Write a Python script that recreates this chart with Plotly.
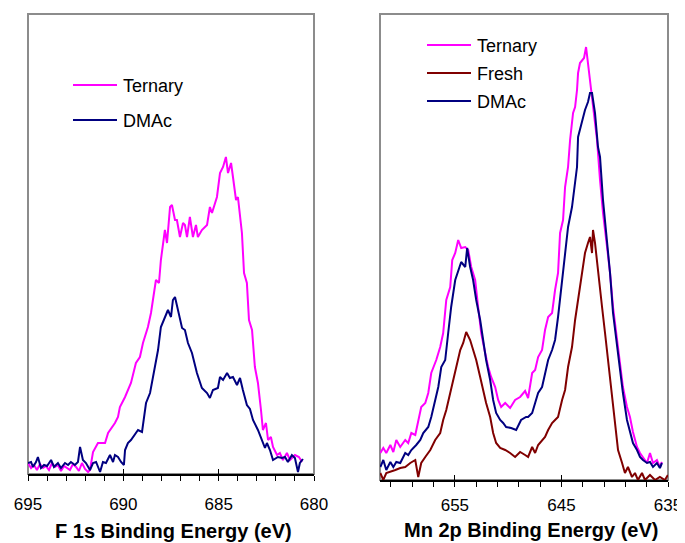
import plotly.graph_objects as go

# ---------------- F 1s panel (left) ----------------
f1s_ternary_energy = [695.00, 694.84, 694.69, 694.53, 694.37, 694.21, 694.06, 693.90, 693.74, 693.58,
                      693.43, 693.27, 693.11, 692.95, 692.80, 692.64, 692.48, 692.33, 692.17, 692.01,
                      691.85, 691.75, 691.59, 691.33, 690.96, 690.80, 690.44, 690.28, 690.18, 689.91,
                      689.76, 689.60, 689.34, 689.13, 688.97, 688.71, 688.55, 688.39, 688.29, 688.13,
                      688.03, 687.82, 687.71, 687.55, 687.45, 687.29, 687.19, 687.03, 686.87, 686.77,
                      686.66, 686.51, 686.35, 686.19, 686.09, 685.88, 685.61, 685.46, 685.35, 685.09,
                      684.93, 684.77, 684.62, 684.51, 684.35, 684.25, 684.09, 683.99, 683.78, 683.67,
                      683.52, 683.41, 683.25, 683.10, 682.94, 682.78, 682.68, 682.52, 682.41, 682.26,
                      682.15, 681.94, 681.79, 681.63, 681.42, 681.26, 681.00, 680.79, 680.63]
f1s_ternary_counts = [11, 6, 9, 4, 10, 6, 8, 4, 11, 7,
                      9, 3, 8, 6, 4, 10, 7, 3, 11, 5,
                      2, 4, 22, 31, 31, 41, 51, 57, 67, 77,
                      84, 91, 111, 117, 131, 147, 161, 184, 194, 191,
                      214, 244, 231, 267, 269, 254, 254, 237, 251, 249,
                      237, 257, 237, 249, 237, 244, 249, 267, 261, 277,
                      301, 307, 317, 301, 311, 297, 274, 277, 241, 201,
                      191, 154, 144, 107, 91, 64, 44, 51, 34, 37,
                      27, 19, 21, 14, 21, 14, 19, 17, 12]

f1s_dmac_energy = [695.00, 694.84, 694.74, 694.58, 694.48, 694.32, 694.16, 694.00, 693.79, 693.64,
                   693.43, 693.27, 693.06, 692.90, 692.75, 692.54, 692.38, 692.27, 692.12, 691.96,
                   691.75, 691.59, 691.43, 691.22, 691.07, 690.91, 690.70, 690.54, 690.44, 690.28,
                   690.12, 689.97, 689.91, 689.76, 689.60, 689.39, 689.23, 689.02, 688.92, 688.81,
                   688.60, 688.50, 688.34, 688.18, 688.03, 687.82, 687.66, 687.50, 687.40, 687.29,
                   687.13, 686.92, 686.77, 686.61, 686.40, 686.14, 685.88, 685.61, 685.46, 685.30,
                   685.04, 684.93, 684.77, 684.56, 684.41, 684.25, 684.04, 683.88, 683.73, 683.52,
                   683.36, 683.20, 682.94, 682.73, 682.57, 682.47, 682.31, 682.15, 681.89, 681.68,
                   681.52, 681.37, 681.16, 681.00, 680.84, 680.74, 680.58]
f1s_dmac_counts = [11, 12, 7, 12, 17, 6, 9, 8, 14, 7,
                   11, 6, 11, 9, 12, 9, 12, 27, 14, 11,
                   4, 11, 12, 2, 12, 11, 19, 12, 19, 17,
                   12, 9, 24, 31, 34, 39, 44, 42, 57, 71,
                   81, 91, 111, 124, 147, 157, 164, 157, 174, 177,
                   164, 146, 144, 131, 121, 101, 86, 81, 76, 84,
                   86, 97, 94, 101, 96, 97, 89, 96, 84, 69,
                   65, 54, 44, 34, 26, 31, 24, 14, 17, 16,
                   17, 12, 19, 16, 2, 11, 15]

# ---------------- Mn 2p panel (right) ----------------
mn_ternary_energy = [662.00, 661.72, 661.44, 661.06, 660.78, 660.50, 660.13, 659.66, 659.38, 659.09,
                     658.72, 658.44, 658.16, 657.78, 657.50, 657.22, 656.75, 656.38, 656.10, 655.81,
                     655.44, 655.25, 654.97, 654.69, 654.41, 654.03, 653.75, 653.47, 653.10, 652.82,
                     652.53, 652.16, 651.88, 651.60, 651.22, 650.94, 650.66, 650.28, 649.82, 649.35,
                     648.88, 648.41, 648.13, 647.75, 647.47, 647.19, 646.82, 646.54, 646.25, 645.88,
                     645.60, 645.32, 645.13, 644.85, 644.66, 644.38, 644.19, 643.91, 643.72, 643.54,
                     643.44, 643.26, 643.07, 642.88, 642.69, 642.51, 642.32, 642.04, 641.66, 641.38,
                     641.10, 640.72, 640.44, 640.16, 639.78, 639.51, 639.23, 638.85, 638.57, 638.29,
                     637.91, 637.63, 637.35, 636.97, 636.69, 636.41, 636.04, 635.76, 635.57]
mn_ternary_counts = [27, 32, 27, 35, 28, 40, 33, 40, 37, 47,
                     45, 60, 73, 77, 87, 107, 120, 133, 147, 180,
                     193, 220, 227, 240, 232, 233, 230, 213, 200, 173,
                     147, 127, 113, 103, 93, 80, 73, 77, 72, 80,
                     83, 89, 82, 107, 110, 123, 130, 150, 163, 167,
                     190, 207, 247, 260, 293, 313, 340, 367, 373, 390,
                     407, 417, 420, 422, 433, 417, 403, 373, 340, 300,
                     267, 233, 207, 173, 140, 113, 93, 73, 63, 48,
                     33, 27, 23, 17, 27, 17, 20, 13, 18]

mn_fresh_energy = [662.00, 661.72, 661.44, 661.06, 660.59, 660.13, 659.66, 659.19, 658.72, 658.44,
                   658.16, 657.78, 657.31, 656.85, 656.38, 656.10, 655.81, 655.44, 655.16, 654.88,
                   654.50, 654.22, 653.94, 653.57, 653.29, 653.00, 652.63, 652.35, 652.07, 651.69,
                   651.41, 651.13, 650.75, 650.28, 649.82, 649.35, 648.88, 648.41, 648.13, 647.75,
                   647.47, 647.19, 646.82, 646.54, 646.25, 645.88, 645.60, 645.32, 644.94, 644.66,
                   644.38, 644.01, 643.72, 643.44, 643.07, 642.79, 642.51, 642.32, 642.13, 642.04,
                   641.85, 641.57, 641.19, 640.91, 640.63, 640.26, 639.97, 639.69, 639.31, 639.04,
                   638.76, 638.38, 638.10, 637.82, 637.44, 637.16, 636.69, 636.22, 635.76, 635.29,
                   635.01]
mn_fresh_counts = [7, 0, 7, 8, 10, 12, 13, 17, 20, 3,
                   17, 23, 30, 40, 47, 60, 70, 87, 100, 110,
                   130, 137, 148, 140, 130, 120, 103, 90, 77, 63,
                   47, 37, 32, 30, 27, 23, 28, 25, 23, 33,
                   27, 35, 40, 43, 50, 57, 60, 63, 80, 90,
                   113, 133, 160, 180, 210, 227, 237, 243, 227, 250,
                   237, 207, 173, 147, 120, 87, 60, 30, 17, 7,
                   13, 3, 7, 0, 7, 0, 5, 0, 3, 0,
                   5]

mn_dmac_energy = [662.00, 661.72, 661.44, 661.06, 660.78, 660.50, 660.13, 659.66, 659.38, 659.09,
                  658.63, 658.25, 657.97, 657.50, 657.22, 656.85, 656.56, 656.28, 655.91, 655.63,
                  655.35, 654.97, 654.69, 654.41, 654.03, 653.85, 653.57, 653.29, 653.00, 652.63,
                  652.35, 652.07, 651.69, 651.41, 651.13, 650.75, 650.47, 650.19, 649.72, 649.25,
                  648.79, 648.32, 648.13, 647.75, 647.47, 647.19, 646.82, 646.54, 646.25, 645.88,
                  645.60, 645.32, 644.94, 644.66, 644.38, 644.01, 643.72, 643.54, 643.44, 643.07,
                  642.79, 642.51, 642.32, 642.13, 641.85, 641.57, 641.38, 641.10, 640.72, 640.44,
                  640.16, 639.78, 639.51, 639.23, 638.85, 638.57, 638.29, 637.91, 637.63, 637.35,
                  636.97, 636.69, 636.41, 636.04, 635.76, 635.57]
mn_dmac_counts = [13, 20, 10, 18, 13, 18, 17, 27, 25, 30,
                  35, 40, 47, 53, 63, 80, 93, 113, 120, 147,
                  173, 200, 210, 218, 213, 232, 213, 200, 180, 160,
                  140, 120, 100, 80, 67, 60, 57, 53, 52, 50,
                  60, 63, 63, 67, 77, 87, 93, 107, 120, 130,
                  140, 163, 200, 227, 253, 273, 300, 313, 343, 360,
                  370, 378, 387, 387, 367, 333, 323, 280, 240, 207,
                  167, 133, 107, 87, 60, 47, 37, 30, 23, 20,
                  17, 18, 13, 17, 12, 17]

f1s_ticks = list(range(695, 679, -1))
f1s_labels = ["695", "690", "685", "680"]
mn_ticks = list(range(661, 634, -2)) + [635]
mn_labels = ["655", "645", "635"]

left_legend = ["Ternary", "DMAc"]
right_legend = ["Ternary", "Fresh", "DMAc"]
titles = ["F 1s Binding Energy (eV)", "Mn 2p Binding Energy (eV)"]

MAGENTA = "#FF00FF"
NAVY = "#000080"
BROWN = "#800000"
FONT = "Liberation Sans, Arial, sans-serif"

# the page body adds an 8px offset; size the figure to fill the rest of the window
OFF = 8
W, H = 685 - OFF, 543 - OFF


def px_x(p):
    return (p - OFF) / W


def px_y(p):
    return (H - (p - OFF)) / H


fig = go.Figure()
lw = 2
fig.add_trace(go.Scatter(x=f1s_ternary_energy, y=f1s_ternary_counts, mode="lines",
                         line=dict(color=MAGENTA, width=lw), xaxis="x", yaxis="y"))
fig.add_trace(go.Scatter(x=f1s_dmac_energy, y=f1s_dmac_counts, mode="lines",
                         line=dict(color=NAVY, width=lw), xaxis="x", yaxis="y"))
fig.add_trace(go.Scatter(x=mn_ternary_energy, y=mn_ternary_counts, mode="lines",
                         line=dict(color=MAGENTA, width=lw), xaxis="x2", yaxis="y2"))
fig.add_trace(go.Scatter(x=mn_fresh_energy, y=mn_fresh_counts, mode="lines",
                         line=dict(color=BROWN, width=lw), xaxis="x2", yaxis="y2"))
fig.add_trace(go.Scatter(x=mn_dmac_energy, y=mn_dmac_counts, mode="lines",
                         line=dict(color=NAVY, width=lw), xaxis="x2", yaxis="y2"))
# empty traces so the overlay (inside major tick) axes are drawn
fig.add_trace(go.Scatter(x=[], y=[], xaxis="x3", yaxis="y", hoverinfo="skip"))
fig.add_trace(go.Scatter(x=[], y=[], xaxis="x4", yaxis="y2", hoverinfo="skip"))

left_dom = [px_x(28), px_x(314)]
right_dom = [px_x(380), px_x(668)]
left_ydom = [px_y(474), px_y(14)]
right_ydom = [px_y(480), px_y(14)]

left_ticktext = [str(v) if str(v) in f1s_labels else "" for v in f1s_ticks]
right_ticktext = [str(v) if str(v) in mn_labels else "" for v in mn_ticks]

common_x = dict(showgrid=False, zeroline=False, showline=True, linecolor="black", linewidth=1.5,
                ticks="outside", ticklen=5, tickwidth=1.2, tickcolor="black",
                tickfont=dict(family=FONT, size=17, color="black"), tickmode="array")

fig.update_layout(
    width=W, height=H, showlegend=False,
    margin=dict(l=0, r=0, t=0, b=0, autoexpand=False),
    paper_bgcolor="white", plot_bgcolor="white",
    xaxis=dict(domain=left_dom, range=[695, 680], anchor="y",
               tickvals=f1s_ticks, ticktext=left_ticktext, ticklabelstandoff=9, **common_x),
    yaxis=dict(domain=left_ydom, range=[0, 460], anchor="x", visible=False),
    xaxis2=dict(domain=right_dom, range=[662.03, 635], anchor="y2",
                tickvals=mn_ticks, ticktext=right_ticktext, ticklabelstandoff=4, **common_x),
    yaxis2=dict(domain=right_ydom, range=[0, 466], anchor="x2", visible=False),
    xaxis3=dict(overlaying="x", anchor="y", range=[695, 680], showgrid=False, zeroline=False,
                showline=False, ticks="inside", ticklen=5, tickwidth=1.2, tickcolor="black",
                tickmode="array", tickvals=[690, 685], showticklabels=False),
    xaxis4=dict(overlaying="x2", anchor="y2", range=[662.03, 635], showgrid=False, zeroline=False,
                showline=False, ticks="inside", ticklen=5, tickwidth=1.2, tickcolor="black",
                tickmode="array", tickvals=[655, 645], showticklabels=False),
)

shapes = []
annotations = []
# gray frames (left, top, right sides)
for xd, yd in ((left_dom, left_ydom), (right_dom, right_ydom)):
    shapes.append(dict(type="rect", xref="paper", yref="paper", x0=xd[0], x1=xd[1], y0=yd[0], y1=yd[1],
                       line=dict(color="#8C8C8C", width=2), layer="below"))

# legend entries
left_colors = [MAGENTA, NAVY]
left_ys = [85, 120]
for name, col, yy in zip(left_legend, left_colors, left_ys):
    shapes.append(dict(type="line", xref="paper", yref="paper", x0=px_x(73), x1=px_x(117),
                       y0=px_y(yy), y1=px_y(yy), line=dict(color=col, width=2)))
    annotations.append(dict(text=name, xref="paper", yref="paper", x=px_x(121), y=px_y(yy + 1),
                            xanchor="left", yanchor="middle", showarrow=False,
                            font=dict(family=FONT, size=18, color="black")))
right_colors = [MAGENTA, BROWN, NAVY]
right_ys = [45, 73, 101]
for name, col, yy in zip(right_legend, right_colors, right_ys):
    shapes.append(dict(type="line", xref="paper", yref="paper", x0=px_x(427), x1=px_x(471),
                       y0=px_y(yy), y1=px_y(yy), line=dict(color=col, width=2)))
    annotations.append(dict(text=name, xref="paper", yref="paper", x=px_x(475), y=px_y(yy + 1),
                            xanchor="left", yanchor="middle", showarrow=False,
                            font=dict(family=FONT, size=18, color="black")))

# axis titles
annotations.append(dict(text="<b>" + titles[0] + "</b>", xref="paper", yref="paper",
                        x=px_x(173.5), y=px_y(531), xanchor="center", yanchor="middle",
                        showarrow=False, font=dict(family=FONT, size=20, color="black")))
annotations.append(dict(text="<b>" + titles[1] + "</b>", xref="paper", yref="paper",
                        x=px_x(531), y=px_y(530), xanchor="center", yanchor="middle",
                        showarrow=False, font=dict(family=FONT, size=20, color="black")))

fig.update_layout(shapes=shapes, annotations=annotations)
fig.write_html("out.html")
